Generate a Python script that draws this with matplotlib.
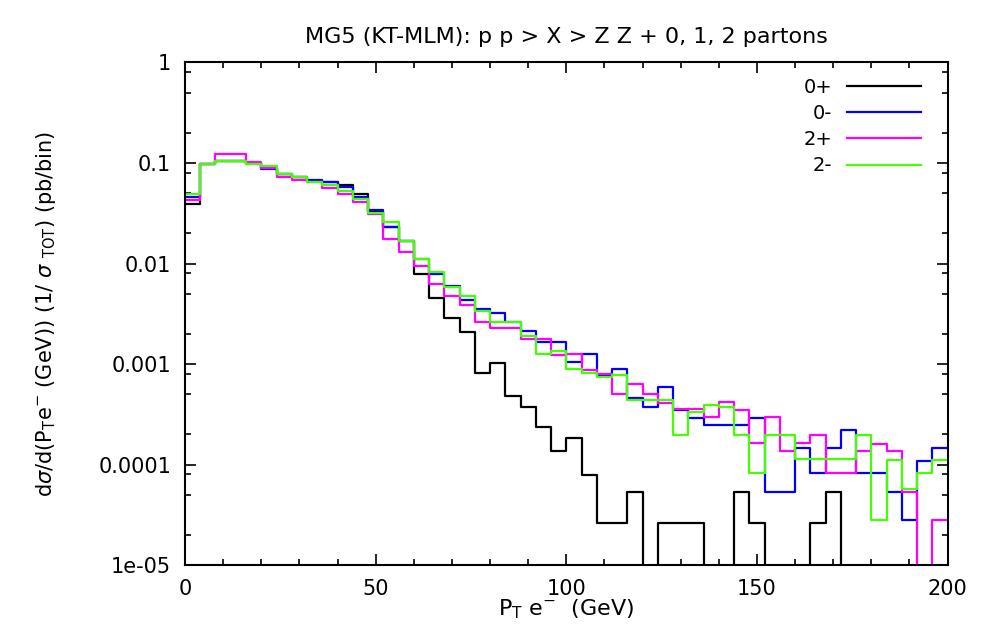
import numpy as np
import matplotlib
matplotlib.use("Agg")
import matplotlib.pyplot as plt
from matplotlib.ticker import FixedLocator, FixedFormatter, MultipleLocator

plt.rcParams['font.family'] = ['DejaVu Sans']
plt.rcParams['mathtext.fontset'] = 'dejavusans'

# 4 GeV bins from 0 to 200
bin_edges = np.arange(0, 204, 4)

# 0+ (black)
spin0p = [0.039, 0.098, 0.105, 0.105, 0.100, 0.090, 0.077, 0.072, 0.066, 0.064,
          0.060, 0.049, 0.033, 0.023, 0.0168, 0.0079, 0.0045, 0.0029, 0.0021, 0.00082,
          0.00102, 0.00048, 0.00037, 0.000235, 0.000136, 0.000183, 7.8e-5, 2.6e-5, 2.6e-5, 5.4e-5,
          0.0, 2.6e-5, 2.6e-5, 2.6e-5, 0.0, 0.0, 5.4e-5, 2.6e-5, 0.0, 0.0,
          0.0, 2.6e-5, 5.4e-5, 0.0, 0.0, 0.0, 0.0, 0.0, 0.0, 0.0]

# 0- (blue)
spin0m = [0.046, 0.098, 0.105, 0.105, 0.100, 0.088, 0.077, 0.072, 0.068, 0.064,
          0.057, 0.046, 0.034, 0.023, 0.0168, 0.0112, 0.0079, 0.0060, 0.0043, 0.0035,
          0.0032, 0.0026, 0.00215, 0.00165, 0.00165, 0.00105, 0.00125, 0.00078, 0.00090, 0.00046,
          0.00037, 0.00059, 0.00035, 0.00029, 0.00025, 0.00025, 0.00025, 0.00029, 5.4e-5, 5.4e-5,
          0.000147, 8.3e-5, 0.000147, 0.00022, 8.3e-5, 8.3e-5, 5.3e-5, 2.8e-5, 0.000109, 0.000147]

# 2+ (magenta)
spin2p = [0.043, 0.098, 0.124, 0.124, 0.103, 0.090, 0.072, 0.068, 0.064, 0.056,
          0.049, 0.041, 0.031, 0.0177, 0.0130, 0.0095, 0.0062, 0.0048, 0.0039, 0.0026,
          0.0023, 0.0023, 0.00178, 0.00178, 0.00122, 0.00125, 0.00087, 0.00080, 0.00050, 0.00064,
          0.00050, 0.00041, 0.00036, 0.00036, 0.00030, 0.00042, 0.00035, 0.000164, 0.00030, 0.000136,
          0.000164, 0.000195, 8.3e-5, 8.3e-5, 0.000136, 0.000162, 0.000136, 5.4e-5, 0.0, 2.8e-5]

# 2- (green)
spin2m = [0.049, 0.098, 0.105, 0.105, 0.098, 0.093, 0.077, 0.072, 0.064, 0.061,
          0.053, 0.044, 0.032, 0.0257, 0.0168, 0.0112, 0.0082, 0.0058, 0.0047, 0.0034,
          0.0026, 0.0026, 0.0019, 0.00127, 0.00136, 0.00089, 0.00082, 0.00075, 0.00077, 0.00044,
          0.00044, 0.00044, 0.000195, 0.00033, 0.00039, 0.00037, 0.000195, 8.2e-5, 0.000195, 0.000195,
          0.000114, 0.000114, 0.000114, 0.000114, 0.000195, 2.8e-5, 0.000111, 5.7e-5, 8.3e-5, 0.000111]

labels = ["0+", "0-", "2+", "2-"]
colors = ["black", "#0000ff", "#ff00ff", "#44ff00"]

fig = plt.figure(figsize=(9.84, 6.43), dpi=100)
ax = fig.add_axes([0.188, 0.121, 0.775, 0.782])
ax.set_yscale("log", nonpositive="clip")

for vals, lab, col in zip([spin0p, spin0m, spin2p, spin2m], labels, colors):
    y = np.append(vals, vals[-1])
    ax.step(bin_edges, y, where="post", color=col, lw=1.6, label=lab)

ax.set_xlim(0, 200)
ax.set_ylim(1e-5, 1)

yt = [1, 0.1, 0.01, 0.001, 0.0001, 1e-5]
ax.yaxis.set_major_locator(FixedLocator(yt))
ax.yaxis.set_major_formatter(FixedFormatter(["1", "0.1", "0.01", "0.001", "0.0001", "1e-05"]))
minor_y = [m * 10.0 ** e for e in range(-5, 0) for m in (2, 5, 8)]
ax.yaxis.set_minor_locator(FixedLocator(minor_y))
ax.yaxis.set_minor_formatter(FixedFormatter([""] * len(minor_y)))
ax.xaxis.set_major_locator(MultipleLocator(50))
ax.xaxis.set_minor_locator(MultipleLocator(10))

ax.tick_params(which="both", direction="in", top=True, right=True, labelsize=15, width=1.2)
ax.tick_params(which="major", length=8, pad=10)
ax.tick_params(which="minor", length=4)
for s in ax.spines.values():
    s.set_linewidth(1.5)

ax.set_title("MG5 (KT-MLM): p p > X > Z Z + 0, 1, 2 partons", fontsize=16, pad=14)
ax.set_xlabel(r"P$_\mathrm{T}$ e$^{-}$  (GeV)", fontsize=16, labelpad=-1)
ax.set_ylabel(r"d$\sigma$/d(P$_\mathrm{T}$e$^{-}$ (GeV)) (1/ $\sigma$ $_\mathrm{TOT}$) (pb/bin)",
              fontsize=15, labelpad=29)

ax.legend(loc="upper right", bbox_to_anchor=(0.991, 1.008), frameon=False, markerfirst=False,
          fontsize=14, handlelength=3.8, labelspacing=0.37, borderaxespad=0.6, handletextpad=0.77)

fig.savefig("out.png", dpi=100)
